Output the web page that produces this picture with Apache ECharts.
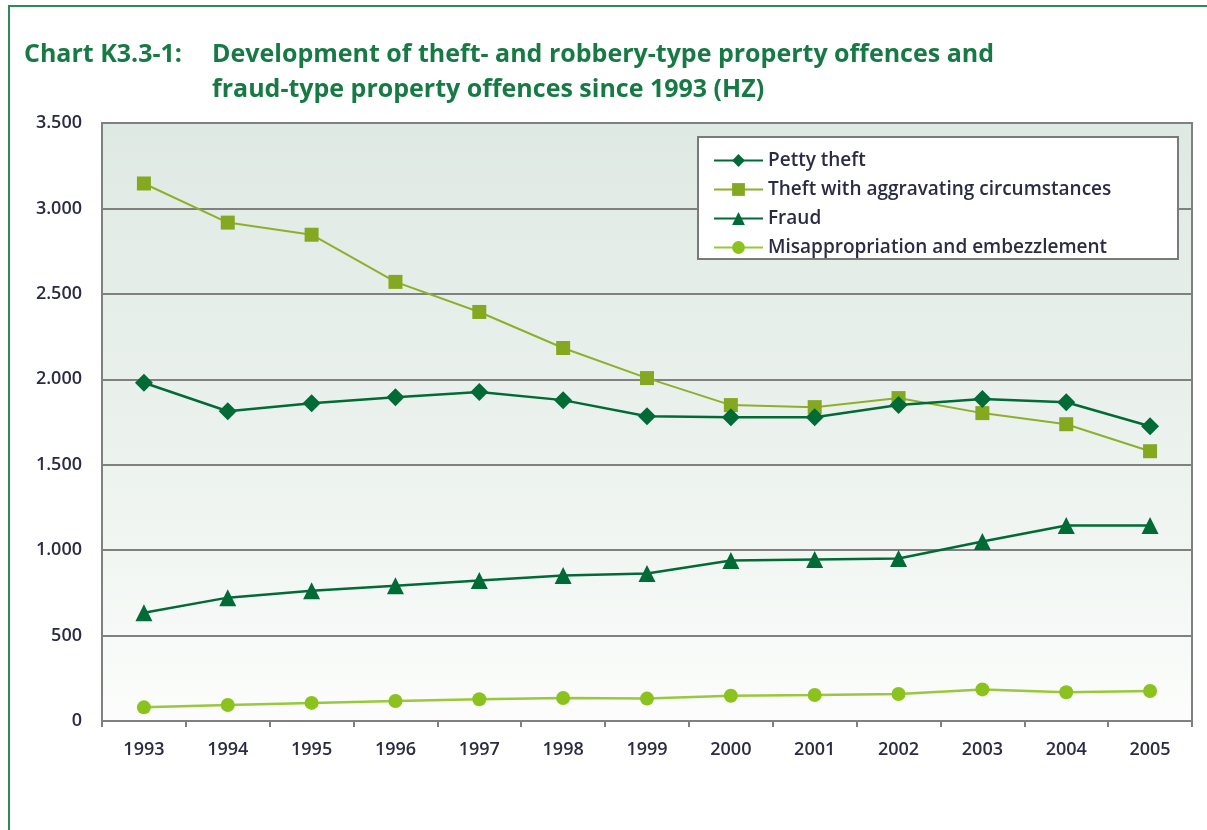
<!DOCTYPE html>
<html>
<head>
<meta charset="utf-8">
<script src="https://cdn.jsdelivr.net/npm/echarts@6/dist/echarts.min.js"></script>
<style>
html,body{margin:0;padding:0;background:#fff;}
#c{width:1207px;height:830px;}
</style>
</head>
<body>
<div id="c"></div>
<script>
const years = ['1993','1994','1995','1996','1997','1998','1999','2000','2001','2002','2003','2004','2005'];
const pettyTheft = [1980, 1813, 1860, 1895, 1925, 1878, 1784, 1778, 1778, 1849, 1884, 1866, 1725];
const theftAggravating = [3146, 2917, 2846, 2570, 2394, 2183, 2007, 1849, 1837, 1890, 1802, 1737, 1579];
const fraud = [634, 722, 763, 792, 822, 851, 863, 939, 945, 951, 1050, 1144, 1144];
const misappropriation = [80, 94, 106, 117, 127, 135, 131, 148, 152, 158, 185, 168, 176];
const seriesNames = ['Petty theft','Theft with aggravating circumstances','Fraud','Misappropriation and embezzlement'];
const yTicks = {min:0, max:3500, interval:500};

const chart = echarts.init(document.getElementById('c'));
const FONT = '"Open Sans", "Noto Sans", sans-serif';
const dark = '#006b35';
const lime = '#84a820';
const lime2 = '#8cc21e';
const labelColor = '#2b2b45';

chart.setOption({
  animation:false,
  backgroundColor:'#ffffff',
  textStyle:{fontFamily:FONT},
  title:[
    {text:'Chart K3.3-1:', left:19, top:32, textStyle:{fontFamily:FONT,fontSize:25,fontWeight:'bold',color:'#177a45',lineHeight:35}},
    {text:'Development of theft- and robbery-type property offences and\nfraud-type property offences since 1993 (HZ)', left:207, top:32,
     textStyle:{fontFamily:FONT,fontSize:25,fontWeight:'bold',color:'#177a45',lineHeight:35}}
  ],
  graphic:[
    {type:'line', shape:{x1:8,y1:6,x2:1207,y2:6}, style:{stroke:'#2f8a5a',lineWidth:2}, z:10},
    {type:'line', shape:{x1:9,y1:6,x2:9,y2:830}, style:{stroke:'#2f8a5a',lineWidth:2}, z:10},
    {type:'rect', shape:{x:698,y:137,width:480,height:122}, style:{fill:'#ffffff',stroke:'#7a7a7a',lineWidth:2}, z:5}
  ],
  legend:{
    orient:'vertical', left:708, top:146, itemWidth:49, itemHeight:16, itemGap:10,
    z:10,
    data:seriesNames,
    textStyle:{fontFamily:FONT,fontSize:19,fontWeight:600,color:labelColor,lineHeight:16}
  },
  grid:{left:102, right:15, top:123, bottom:109, show:true,
    borderColor:'#808080', borderWidth:2,
    backgroundColor:new echarts.graphic.LinearGradient(0,0,0,1,[
      {offset:0,color:'#dfe9e3'},{offset:0.6,color:'#edf3ef'},{offset:1,color:'#fcfdfc'}])
  },
  xAxis:{
    type:'category', data:years, boundaryGap:true,
    axisLine:{lineStyle:{color:'#808080',width:2}},
    axisTick:{show:true, length:6, lineStyle:{color:'#808080',width:2}},
    axisLabel:{fontFamily:FONT,fontSize:18,fontWeight:600,color:labelColor,margin:20}
  },
  yAxis:{
    type:'value', min:yTicks.min, max:yTicks.max, interval:yTicks.interval,
    axisLine:{show:true,lineStyle:{color:'#808080',width:2}},
    axisTick:{show:false},
    splitLine:{lineStyle:{color:'#808080',width:2}},
    axisLabel:{fontFamily:FONT,fontSize:18,fontWeight:600,color:labelColor,margin:20,
      formatter:v=>v>=1000?(Math.floor(v/1000)+'.'+String(v%1000).padStart(3,'0')):String(v)}
  },
  series:[
    {name:seriesNames[0], type:'line', data:pettyTheft, symbol:'diamond', symbolSize:18,
      lineStyle:{color:dark,width:2.5}, itemStyle:{color:dark}, z:4},
    {name:seriesNames[1], type:'line', data:theftAggravating, symbol:'rect', symbolSize:14,
      lineStyle:{color:'#8db02a',width:2}, itemStyle:{color:lime}, z:3},
    {name:seriesNames[2], type:'line', data:fraud, symbol:'triangle', symbolSize:17,
      lineStyle:{color:dark,width:2.5}, itemStyle:{color:dark}, z:4},
    {name:seriesNames[3], type:'line', data:misappropriation, symbol:'circle', symbolSize:14,
      lineStyle:{color:'#99c83a',width:2.5}, itemStyle:{color:lime2}, z:3}
  ]
});
</script>
</body>
</html>
